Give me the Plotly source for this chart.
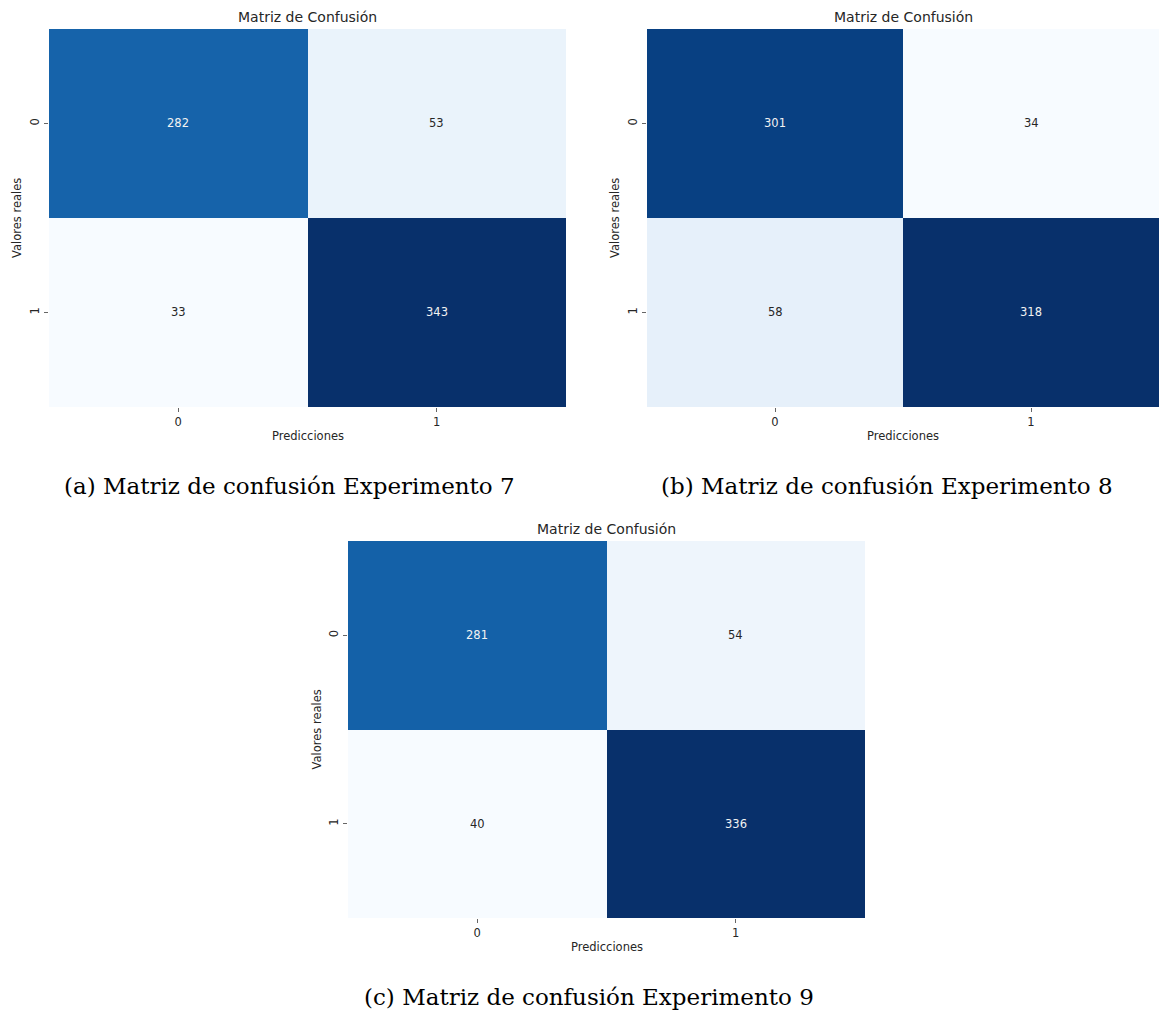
import plotly.graph_objects as go

# Confusion matrices (rows: actual, columns: predicted)
labels = ["0", "1"]
cm_exp7 = [[282, 53], [33, 343]]
cm_exp8 = [[301, 34], [58, 318]]
cm_exp9 = [[281, 54], [40, 336]]

panel_title = "Matriz de Confusión"
x_title = "Predicciones"
y_title = "Valores reales"
captions = [
    "(a) Matriz de confusión Experimento 7",
    "(b) Matriz de confusión Experimento 8",
    "(c) Matriz de confusión Experimento 9",
]

W, H = 1159, 1012

# matplotlib "Blues"
blues = [
    [0.0, "#f7fbff"], [0.125, "#deebf7"], [0.25, "#c6dbef"], [0.375, "#9ecae1"],
    [0.5, "#6baed6"], [0.625, "#4292c6"], [0.75, "#2171b5"], [0.875, "#08519c"],
    [1.0, "#08306b"],
]


def hex_rgb(h):
    h = h.lstrip("#")
    return tuple(int(h[i:i + 2], 16) for i in (0, 2, 4))


def blues_at(t):
    for (a, ca), (b, cb) in zip(blues[:-1], blues[1:]):
        if a <= t <= b:
            f = (t - a) / (b - a)
            r1, g1, b1 = hex_rgb(ca)
            r2, g2, b2 = hex_rgb(cb)
            return (r1 + f * (r2 - r1), g1 + f * (g2 - g1), b1 + f * (b2 - b1))
    return hex_rgb(blues[-1][1])


def luminance(rgb):
    def ch(c):
        c = c / 255
        return c / 12.92 if c <= 0.03928 else ((c + 0.055) / 1.055) ** 2.4
    r, g, b = (ch(c) for c in rgb)
    return 0.2126 * r + 0.7152 * g + 0.0722 * b


# panel boxes in pixels: (left, top, right, bottom)
boxes = [(49, 29, 566, 407), (647, 29, 1159, 407), (348, 541, 865, 918)]
caption_pos = [(289, 486), (887, 486), (589, 997)]
mats = [cm_exp7, cm_exp8, cm_exp9]

fig = go.Figure()
annotations = []
sans = "DejaVu Sans"
txt = "#262626"
small = 11.5

for i, (cm, box) in enumerate(zip(mats, boxes)):
    l, t, r, b = box
    xa = "x" if i == 0 else f"x{i + 1}"
    ya = "y" if i == 0 else f"y{i + 1}"
    flat = [v for row in cm for v in row]
    zmin, zmax = min(flat), max(flat)
    fig.add_trace(go.Heatmap(
        z=cm, x=labels, y=labels, colorscale=blues, zmin=zmin, zmax=zmax,
        showscale=False, xaxis=xa, yaxis=ya, hoverinfo="skip",
    ))
    xkey = "xaxis" if i == 0 else f"xaxis{i + 1}"
    ykey = "yaxis" if i == 0 else f"yaxis{i + 1}"
    fig.layout[xkey] = dict(
        domain=[l / W, r / W], anchor=ya, ticks="outside", ticklen=4, tickwidth=1,
        tickcolor="#666", showgrid=False, zeroline=False, showline=False,
        tickfont=dict(family=sans, size=small, color=txt), type="category",
    )
    fig.layout[ykey] = dict(
        domain=[1 - b / H, 1 - t / H], anchor=xa, ticks="outside", ticklen=4, tickwidth=1,
        tickcolor="#666", showgrid=False, zeroline=False, showline=False,
        tickfont=dict(family=sans, size=small, color=txt), type="category",
        autorange="reversed", tickangle=-90,
    )
    # cell values
    for ri, row in enumerate(cm):
        for ci, v in enumerate(row):
            tcol = (v - zmin) / (zmax - zmin)
            col = "#262626" if luminance(blues_at(tcol)) > 0.408 else "#f2f2f2"
            annotations.append(dict(
                x=labels[ci], y=labels[ri], xref=xa, yref=ya, text=str(v),
                showarrow=False, font=dict(family=sans, size=small, color=col),
            ))
    cx = (l + r) / 2
    annotations.append(dict(
        x=cx / W, y=1 - (t - 12) / H, xref="paper", yref="paper", text=panel_title,
        showarrow=False, font=dict(family=sans, size=14, color=txt),
        xanchor="center", yanchor="middle",
    ))
    annotations.append(dict(
        x=cx / W, y=1 - (b + 29) / H, xref="paper", yref="paper", text=x_title,
        showarrow=False, font=dict(family=sans, size=small, color=txt),
        xanchor="center", yanchor="middle",
    ))
    annotations.append(dict(
        x=(l - 32) / W, y=1 - ((t + b) / 2) / H, xref="paper", yref="paper", text=y_title,
        showarrow=False, font=dict(family=sans, size=small, color=txt), textangle=-90,
        xanchor="center", yanchor="middle",
    ))
    px, py = caption_pos[i]
    annotations.append(dict(
        x=px / W, y=1 - py / H, xref="paper", yref="paper", text=captions[i],
        showarrow=False, font=dict(family="DejaVu Serif", size=23, color="#000"),
        xanchor="center", yanchor="middle",
    ))

fig.update_layout(
    width=W, height=H, margin=dict(l=0, r=0, t=0, b=0),
    paper_bgcolor="white", plot_bgcolor="white", annotations=annotations,
)

fig.write_html("out.html")
